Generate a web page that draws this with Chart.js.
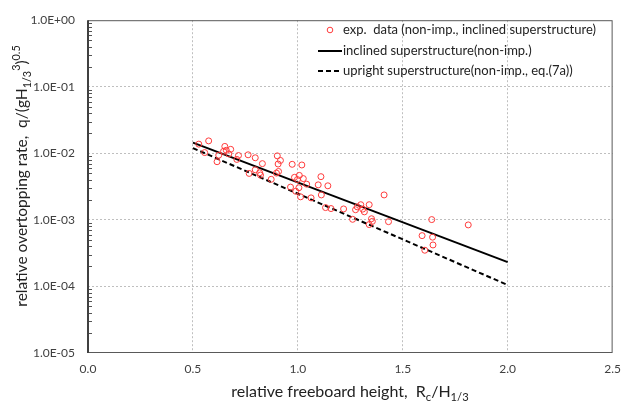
<!DOCTYPE html>
<html>
<head>
<meta charset="utf-8">
<script src="https://cdn.jsdelivr.net/npm/chart.js@4"></script>
<style>
  html, body { margin: 0; padding: 0; background: #fff; }
</style>
</head>
<body>
<canvas id="chart" width="630" height="406"></canvas>
<script>
// experimental points (Rc/H1/3, q/(gH^3)^0.5)
const expX = [0.528, 0.575, 0.556, 0.623, 0.615, 0.652, 0.646, 0.659, 0.680, 0.671,
  0.717, 0.709, 0.763, 0.797, 0.768, 0.797, 0.831, 0.818, 0.822, 0.873,
  0.902, 0.917, 0.906, 0.898, 0.908, 0.973, 1.019, 0.984, 1.007, 0.998,
  1.026, 0.965, 1.005, 1.042, 0.990, 1.013, 1.063, 1.110, 1.097, 1.143,
  1.112, 1.132, 1.158, 1.218, 1.261, 1.275, 1.283, 1.300, 1.309, 1.317,
  1.340, 1.411, 1.351, 1.355, 1.340, 1.432, 1.638, 1.812, 1.592, 1.642,
  1.644, 1.605];
const expY = [0.01374, 0.01538, 0.01026, 0.00937, 0.00748, 0.0127, 0.01072, 0.0111, 0.01148, 0.0098,
  0.00926, 0.0081, 0.0095, 0.00857, 0.00499, 0.00565, 0.0070, 0.0051, 0.00472, 0.00407,
  0.00916, 0.00782, 0.00691, 0.00505, 0.00534, 0.00684, 0.00668, 0.00436, 0.00466, 0.00403,
  0.00417, 0.00311, 0.00304, 0.00344, 0.00269, 0.00222, 0.00214, 0.00446, 0.00336, 0.00325,
  0.00237, 0.00153, 0.00148, 0.00146, 0.00102, 0.00142, 0.00157, 0.00169, 0.00145, 0.00132,
  0.00169, 0.00237, 0.00104, 0.00095, 0.00085, 0.00094, 0.00101, 0.00084, 0.00058, 0.00055,
  0.00042, 0.00035];

// fitted lines, end points only (straight on a log axis)
const lineX = [0.5, 2.0];
const inclinedY = [0.0145, 0.000232];
const uprightY = [0.0120, 0.000105];

const xTicks = [0, 0.5, 1.0, 1.5, 2.0, 2.5];
const yTicks = [1e-5, 1e-4, 1e-3, 1e-2, 1e-1, 1];
const yTickLabels = ['1.0E-05', '1.0E-04', '1.0E-03', '1.0E-02', '1.0E-01', '1.0E+00'];
const legendLabels = [
  'exp.  data (non-imp., inclined superstructure)',
  'inclined superstructure(non-imp.)',
  'upright superstructure(non-imp., eq.(7a))'
];

const FONT = 'Lato, "Open Sans", sans-serif';
const RED = '#ff3b3b';

// draw text with sub/superscript pieces: [text, shift] shift: 0 normal, -1 sub, 1 sup
function richWidth(ctx, segs, size) {
  let w = 0;
  for (const [t, s] of segs) {
    ctx.font = (s ? size * 0.7 : size) + 'px ' + FONT;
    w += ctx.measureText(t).width;
  }
  return w;
}
function drawRich(ctx, segs, x, y, size) {
  let cx = x - richWidth(ctx, segs, size) / 2;
  ctx.textBaseline = 'alphabetic';
  ctx.textAlign = 'left';
  for (const [t, s] of segs) {
    ctx.font = (s ? size * 0.7 : size) + 'px ' + FONT;
    const dy = s === -1 ? size * 0.25 : s === 1 ? -size * 0.42 : 0;
    ctx.fillText(t, cx, y + dy);
    cx += ctx.measureText(t).width;
  }
}

const decor = {
  id: 'decor',
  beforeDatasetsDraw(chart) {
    const { ctx, chartArea: a, scales } = chart;
    ctx.save();
    // minor ticks on the y axis, pointing into the plot
    ctx.strokeStyle = '#555';
    ctx.lineWidth = 1;
    for (let e = -5; e < 0; e++) {
      for (let m = 2; m <= 9; m++) {
        const py = Math.round(scales.y.getPixelForValue(m * Math.pow(10, e))) + 0.5;
        ctx.beginPath();
        ctx.moveTo(a.left, py);
        ctx.lineTo(a.left + 4, py);
        ctx.stroke();
      }
    }
    ctx.restore();
  },
  afterDraw(chart) {
    const { ctx, chartArea: a } = chart;
    ctx.save();
    // frame
    ctx.strokeStyle = '#595959';
    ctx.lineWidth = 1;
    ctx.strokeRect(a.left + 0.5, a.top + 0.5, a.right - a.left - 1, a.bottom - a.top - 1);
    ctx.strokeStyle = '#404040';
    ctx.lineWidth = 2;
    ctx.beginPath();
    ctx.moveTo(a.left, a.top);
    ctx.lineTo(a.left, a.bottom);
    ctx.stroke();

    // legend
    const lx = 318, tx = 343, rows = [30, 51, 71];
    ctx.fillStyle = '#222';
    ctx.font = '13px ' + FONT;
    ctx.textBaseline = 'middle';
    ctx.textAlign = 'left';
    legendLabels.forEach((t, i) => ctx.fillText(t, tx, rows[i]));
    ctx.strokeStyle = RED;
    ctx.lineWidth = 1;
    ctx.beginPath();
    ctx.arc(330, rows[0], 2.8, 0, Math.PI * 2);
    ctx.stroke();
    ctx.strokeStyle = '#000';
    ctx.lineWidth = 2;
    ctx.beginPath();
    ctx.moveTo(lx, rows[1]);
    ctx.lineTo(tx - 1, rows[1]);
    ctx.stroke();
    ctx.setLineDash([5, 3]);
    ctx.beginPath();
    ctx.moveTo(lx, rows[2]);
    ctx.lineTo(tx - 1, rows[2]);
    ctx.stroke();
    ctx.setLineDash([]);

    // axis titles
    ctx.fillStyle = '#222';
    drawRich(ctx, [['relative freeboard height,  R', 0], ['c', -1], ['/H', 0], ['1/3', -1]], 350, 397, 16);
    ctx.translate(27, 176);
    ctx.rotate(-Math.PI / 2);
    drawRich(ctx, [['relative overtopping rate,  q/(gH', 0], ['1/3', -1], ['3', 1], [')', 0], ['0.5', 1]], 0, 0, 15.5);
    ctx.restore();
  }
};

const gridColor = ctx => {
  const v = ctx.tick && ctx.tick.value;
  if (ctx.scale.axis === 'x') return (v <= 0 || v >= 2.5) ? 'rgba(0,0,0,0)' : '#bfbfbf';
  return (v <= 1e-5 || v >= 1) ? 'rgba(0,0,0,0)' : '#bfbfbf';
};

new Chart(document.getElementById('chart'), {
  type: 'scatter',
  plugins: [decor],
  data: {
    datasets: [
      {
        label: legendLabels[0],
        data: expX.map((x, i) => ({ x, y: expY[i] })),
        showLine: false,
        pointStyle: 'circle',
        pointRadius: 3,
        pointBorderWidth: 1,
        pointBorderColor: RED,
        pointBackgroundColor: 'rgba(0,0,0,0)'
      },
      {
        label: legendLabels[1],
        data: lineX.map((x, i) => ({ x, y: inclinedY[i] })),
        showLine: true,
        borderColor: '#000',
        borderWidth: 2,
        pointRadius: 0
      },
      {
        label: legendLabels[2],
        data: lineX.map((x, i) => ({ x, y: uprightY[i] })),
        showLine: true,
        borderColor: '#000',
        borderWidth: 2,
        borderDash: [5, 3],
        pointRadius: 0
      }
    ]
  },
  options: {
    responsive: false,
    animation: false,
    devicePixelRatio: 1,
    layout: { padding: { top: 13, right: 17, bottom: 0, left: 0 } },
    plugins: { legend: { display: false }, tooltip: { enabled: false } },
    scales: {
      x: {
        type: 'linear',
        min: 0,
        max: 2.5,
        afterFit: s => { s.height = 53; },
        afterBuildTicks: s => { s.ticks = xTicks.map(v => ({ value: v })); },
        border: { display: false, dash: [2, 2] },
        grid: { color: gridColor, tickLength: 0, drawTicks: false },
        ticks: {
          color: '#404040',
          font: { family: FONT, size: 12 },
          padding: 9,
          callback: v => v.toFixed(1)
        }
      },
      y: {
        type: 'logarithmic',
        min: 1e-5,
        max: 1,
        afterFit: s => { s.width = 88; },
        afterBuildTicks: s => { s.ticks = yTicks.map(v => ({ value: v })); },
        border: { display: false, dash: [2, 2] },
        grid: { color: gridColor, tickLength: 0, drawTicks: false },
        ticks: {
          color: '#404040',
          font: { family: FONT, size: 12 },
          padding: 13,
          callback: v => yTickLabels[yTicks.findIndex(t => Math.abs(Math.log10(t) - Math.log10(v)) < 1e-6)]
        }
      }
    }
  }
});
</script>
</body>
</html>
